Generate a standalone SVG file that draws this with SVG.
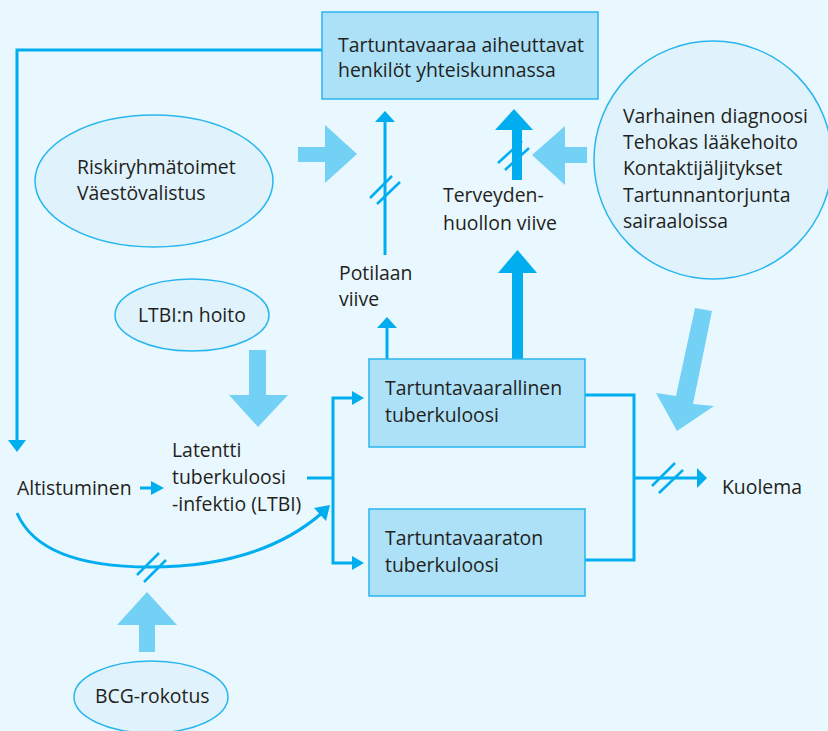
<svg xmlns="http://www.w3.org/2000/svg" width="828" height="731" viewBox="0 0 828 731">
<defs>
<style>
.t{font-family:"Open Sans","Liberation Sans",sans-serif;font-size:19.4px;fill:#231f20}
.box{fill:#ade1f8;stroke:#29b6ee;stroke-width:1.5}
.ell{fill:#e0f3fc;stroke:#29b6ee;stroke-width:1.5}
.ln{fill:none;stroke:#00aeef;stroke-width:3}
.sl{fill:none;stroke:#00aeef;stroke-width:2.5}
.big{fill:#73d1f5}
.dk{fill:#00aeef}
</style>
</defs>
<rect x="0" y="0" width="828" height="731" fill="#e9f7fe"/>

<g id="connectors">
<!-- feedback from top box to Altistuminen -->
<polyline class="ln" points="322,50 17,50 17,440"/>
<polygon class="dk" points="8,440 26,440 17,452"/>
<!-- Altistuminen -> LTBI -->
<line class="ln" x1="140" y1="488" x2="152" y2="488"/>
<polygon class="dk" points="151,481 151,495 164,488"/>
<!-- LTBI branch -->
<polyline class="ln" points="307,478 333,478"/>
<polyline class="ln" points="353,398 333,398 333,563 353,563"/>
<polygon class="dk" points="352,391 352,405 364,398"/>
<polygon class="dk" points="352,556 352,570 364,563"/>
<!-- curved arrow from Altistuminen bypassing LTBI -->
<path class="ln" d="M17,513 Q40,567 150,567 Q260,567 322,513"/>
<polygon class="dk" points="314,508 330,505 326,521"/>
<line class="sl" x1="137" y1="575" x2="159" y2="553"/>
<line class="sl" x1="144" y1="582" x2="166" y2="560"/>
<!-- right side to Kuolema -->
<polyline class="ln" points="585,395 634,395 634,560 585,560"/>
<line class="ln" x1="634" y1="478" x2="698" y2="478"/>
<polygon class="dk" points="697,468 697,488 707,478"/>
<line class="sl" x1="652" y1="486" x2="675" y2="463"/>
<line class="sl" x1="659" y1="493" x2="683" y2="470"/>
<!-- Potilaan viive arrows -->
<line class="ln" x1="387" y1="360" x2="387" y2="327"/>
<polygon class="dk" points="377,328 397,328 387,317"/>
<line class="ln" x1="385" y1="255" x2="385" y2="121"/>
<polygon class="dk" points="375,122 395,122 385,111"/>
<line class="sl" x1="370" y1="198" x2="392" y2="176"/>
<line class="sl" x1="377" y1="204" x2="400" y2="182"/>
<!-- Terveydenhuollon viive arrows -->
<rect class="dk" x="512" y="272" width="11" height="88"/>
<polygon class="dk" points="498,273 537,273 517.5,250"/>
<rect class="dk" x="512" y="128" width="10" height="52"/>
<polygon class="dk" points="495,130 533,130 514,109"/>
<line class="sl" x1="498" y1="163" x2="522" y2="141"/>
<line class="sl" x1="505" y1="170" x2="529" y2="148"/>
<!-- big light arrows -->
<polygon class="big" points="298,147 325,147 325,125 357,154 325,183 325,162 298,162"/>
<polygon class="big" points="587,147 565,147 565,126 532,155 565,185 565,163 587,163"/>
<polygon class="big" points="249,350 266,350 266,395 288,395 258,427 229,395 249,395"/>
<polygon class="big" points="139,652 155,652 155,625 177,625 147,592 117,625 139,625"/>
<polygon class="big" points="695,308 712,311 693,404 714,406 677,431 656,393 676,396"/>
</g>

<g id="top-box">
<rect class="box" x="322" y="12" width="276" height="87"/>
<text class="t" x="338" y="52">Tartuntavaaraa aiheuttavat</text>
<text class="t" x="338" y="77">henkilöt yhteiskunnassa</text>
</g>

<g id="riskiryhma">
<ellipse class="ell" cx="154" cy="181" rx="119" ry="66"/>
<text class="t" x="77" y="174">Riskiryhmätoimet</text>
<text class="t" x="77" y="200">Väestövalistus</text>
</g>

<g id="circle-measures">
<circle class="ell" cx="713" cy="160" r="119"/>
<text class="t" x="623" y="123">Varhainen diagnoosi</text>
<text class="t" x="623" y="149">Tehokas lääkehoito</text>
<text class="t" x="623" y="175">Kontaktijäljitykset</text>
<text class="t" x="623" y="202">Tartunnantorjunta</text>
<text class="t" x="623" y="228">sairaaloissa</text>
</g>

<g id="potilaan-viive">
<text class="t" x="339" y="280">Potilaan</text>
<text class="t" x="339" y="306">viive</text>
</g>

<g id="terveydenhuollon-viive">
<text class="t" x="443" y="202">Terveyden-</text>
<text class="t" x="443" y="230">huollon viive</text>
</g>

<g id="ltbi-hoito">
<ellipse class="ell" cx="192" cy="315" rx="77" ry="36"/>
<text class="t" x="138" y="322">LTBI:n hoito</text>
</g>

<g id="altistuminen">
<text class="t" x="17" y="495">Altistuminen</text>
</g>

<g id="ltbi">
<text class="t" x="172" y="457">Latentti</text>
<text class="t" x="172" y="484">tuberkuloosi</text>
<text class="t" x="172" y="511">-infektio (LTBI)</text>
</g>

<g id="tartuntavaarallinen">
<rect class="box" x="369" y="359" width="216" height="88"/>
<text class="t" x="385" y="395">Tartuntavaarallinen</text>
<text class="t" x="385" y="422">tuberkuloosi</text>
</g>

<g id="tartuntavaaraton">
<rect class="box" x="369" y="509" width="216" height="87"/>
<text class="t" x="385" y="545">Tartuntavaaraton</text>
<text class="t" x="385" y="572">tuberkuloosi</text>
</g>

<g id="kuolema">
<text class="t" x="722" y="494">Kuolema</text>
</g>

<g id="bcg">
<ellipse class="ell" cx="151" cy="697" rx="77" ry="36"/>
<text class="t" x="95" y="703">BCG-rokotus</text>
</g>
</svg>
